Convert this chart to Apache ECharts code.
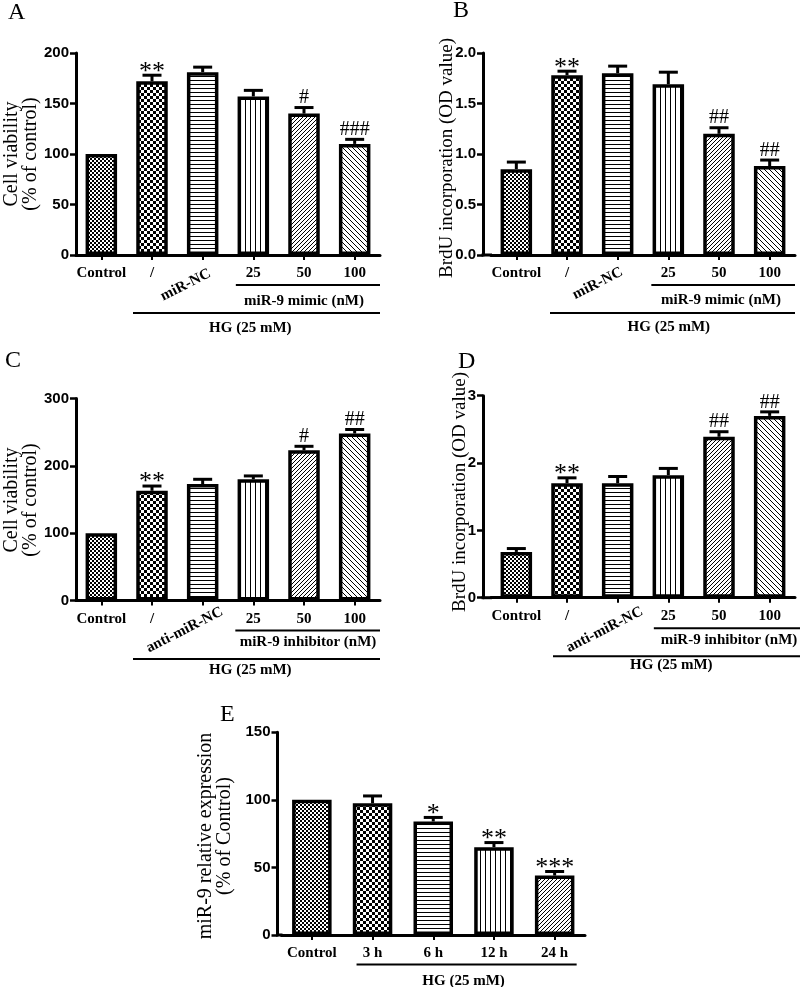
<!DOCTYPE html>
<html><head><meta charset="utf-8">
<script src="https://cdn.jsdelivr.net/npm/echarts@6/dist/echarts.min.js"></script>
<style>html,body{margin:0;padding:0;background:#fff}#c{width:800px;height:987px}</style>
</head><body><div id="c"></div>
<script>
// ---------------- DATA ----------------
const catsA = ['Control', '/', 'miR-NC', '25', '50', '100'];
const valsA = [100, 172, 181, 157, 140, 110];
const errA  = [0, 6, 5, 6, 6, 4.5];
const sigA  = ['', '**', '', '', '#', '###'];
const ticksA = [0, 50, 100, 150, 200];

const catsB = ['Control', '/', 'miR-NC', '25', '50', '100'];
const valsB = [0.85, 1.78, 1.80, 1.69, 1.20, 0.88];
const errB  = [0.07, 0.04, 0.07, 0.12, 0.06, 0.06];
const sigB  = ['', '**', '', '', '##', '##'];
const ticksB = [0.0, 0.5, 1.0, 1.5, 2.0];

const catsC = ['Control', '/', 'anti-miR-NC', '25', '50', '100'];
const valsC = [100, 163, 173, 180, 223, 248];
const errC  = [0, 7, 7, 5, 6, 6];
const sigC  = ['', '**', '', '', '#', '##'];
const ticksC = [0, 100, 200, 300];

const catsD = ['Control', '/', 'anti-miR-NC', '25', '50', '100'];
const valsD = [0.68, 1.70, 1.70, 1.82, 2.39, 2.70];
const errD  = [0.05, 0.08, 0.10, 0.10, 0.075, 0.06];
const sigD  = ['', '**', '', '', '##', '##'];
const ticksD = [0, 1, 2, 3];

const catsE = ['Control', '3 h', '6 h', '12 h', '24 h'];
const valsE = [100, 97.5, 84, 65, 44];
const errE  = [0, 5.4, 3, 3.4, 3];
const sigE  = ['', '', '*', '**', '***'];
const ticksE = [0, 50, 100, 150];

const panelLetters = ['A', 'B', 'C', 'D', 'E'];
const yTitles = ['Cell viability\n(% of control)', 'BrdU incorporation (OD value)',
                 'Cell viability\n(% of control)', 'BrdU incorporation (OD value)',
                 'miR-9 relative expression\n(% of Control)'];
const subLabels = ['miR-9 mimic (nM)', 'miR-9 mimic (nM)', 'miR-9 inhibitor (nM)', 'miR-9 inhibitor (nM)', null];
const hgLabel = 'HG (25 mM)';
const rotatedIdx = [2, 2, 2, 2, -1];

// ---------------- STYLE / LAYOUT ----------------
const SERIF = '"Liberation Serif", "DejaVu Serif", serif';
const SANS = '"Liberation Sans", Arial, sans-serif';

function pattern(type) {
  const c = document.createElement('canvas');
  const g = c.getContext('2d');
  let n = 4;
  if (type === 'checker') n = 6;
  if (type === 'vline') n = 5;
  if (type === 'anti') n = 5;
  c.width = c.height = n;
  g.fillStyle = '#fff'; g.fillRect(0, 0, n, n);
  g.fillStyle = '#000'; g.strokeStyle = '#000';
  if (type === 'fine') { g.fillRect(0, 0, 2, 2); g.fillRect(2, 2, 2, 2); }
  else if (type === 'checker') { g.fillRect(0, 0, 3, 3); g.fillRect(3, 3, 3, 3); }
  else if (type === 'hline') { g.fillRect(0, 0, n, 1); }
  else if (type === 'vline') { g.fillRect(0, 0, 1, n); }
  else if (type === 'diag') {
    g.lineWidth = 1;
    g.beginPath();
    g.moveTo(0, n); g.lineTo(n, 0);
    g.moveTo(-1, 1); g.lineTo(1, -1);
    g.moveTo(n - 1, n + 1); g.lineTo(n + 1, n - 1);
    g.stroke();
  } else if (type === 'anti') {
    g.lineWidth = 1;
    g.beginPath();
    g.moveTo(0, 0); g.lineTo(n, n);
    g.moveTo(-1, n - 1); g.lineTo(1, n + 1);
    g.moveTo(n - 1, -1); g.lineTo(n + 1, 1);
    g.stroke();
  }
  return { image: c, repeat: 'repeat' };
}
const patSix = ['fine', 'checker', 'hline', 'vline', 'diag', 'anti'].map(pattern);
const patFive = ['fine', 'checker', 'hline', 'vline', 'diag'].map(pattern);

const panels = [
  { cats: catsA, vals: valsA, err: errA, sig: sigA, ticks: ticksA, dec: 0 },
  { cats: catsB, vals: valsB, err: errB, sig: sigB, ticks: ticksB, dec: 1 },
  { cats: catsC, vals: valsC, err: errC, sig: sigC, ticks: ticksC, dec: 0 },
  { cats: catsD, vals: valsD, err: errD, sig: sigD, ticks: ticksD, dec: 0 },
  { cats: catsE, vals: valsE, err: errE, sig: sigE, ticks: ticksE, dec: 0 }
];

const layout = [
  { left: 76, top: 53, width: 304, height: 202, off: 0, bw: 31.5, letter: [8, 12.5], yt: [21.5, 154], ytf: 20,
    rot: [-17, 30], sub: { x0: [3, -17.5], x1: 0, y: 30, t: [4, 0, 46] }, hg: { x0: [1, -19], x1: 0, y: 58, t: [3, -3, 73] } },
  { left: 491, top: 53, width: 304, height: 202, off: 8, bw: 31.5, letter: [453, 11], yt: [447, 158], ytf: 19,
    rot: [-20, 28.5], sub: { x0: [3, -17], x1: 0, y: 30, t: [4, 2, 45] }, hg: { x0: [1, -17], x1: 0, y: 58, t: [3, 0.5, 72] } },
  { left: 76, top: 398.5, width: 304, height: 202, off: 0, bw: 31.5, letter: [5, 361], yt: [21.5, 500], ytf: 20,
    rot: [-18, 29.5], sub: { x0: [3, -18], x1: 0, y: 30, t: [4, 4, 42] }, hg: { x0: [1, -19], x1: 0, y: 58.5, t: [3, -3, 70] } },
  { left: 491, top: 395.7, width: 304, height: 202, off: 8, bw: 31.5, letter: [458, 362], yt: [460, 492], ytf: 19,
    rot: [-13, 32], sub: { x0: [3, -14.5], x1: 5, y: 30.5, t: [4, 10, 42.5] }, hg: { x0: [1, -14], x1: 5, y: 58.5, t: [3, 3, 67] } },
  { left: 281.5, top: 732.3, width: 303.5, height: 202.7, off: 4, bw: 39.5, letter: [220, 715], yt: [215, 836], ytf: 20,
    rot: null, sub: null, hg: { x0: [1, -16], x1e: [4, 22], y: 29.5, tmid: [2, 3], t: [0, 0, 46.5] } }
];

// ---------------- OPTION ----------------
const grids = [], xAxes = [], yAxes = [], series = [];
panels.forEach((p, i) => {
  const L = layout[i];
  grids.push({ left: L.left, top: L.top, width: L.width, height: L.height, containLabel: false });
  xAxes.push({
    gridIndex: i, type: 'category', data: p.cats,
    axisLine: { show: true, lineStyle: { color: '#000', width: 3 } },
    axisTick: { show: true, alignWithLabel: true, length: 5, lineStyle: { color: '#000', width: 2 } },
    axisLabel: { interval: 0, color: '#000', fontFamily: SERIF, fontWeight: 'bold', fontSize: 15, margin: 11,
      formatter: (v, idx) => idx === rotatedIdx[i] ? '' : v },
    splitLine: { show: false }
  });
  yAxes.push({
    gridIndex: i, type: 'value', min: p.ticks[0], max: p.ticks[p.ticks.length - 1],
    interval: p.ticks[1] - p.ticks[0], offset: L.off,
    axisLine: { show: true, lineStyle: { color: '#000', width: 3 } },
    axisTick: { show: true, length: 6, lineStyle: { color: '#000', width: 2.5 } },
    axisLabel: { color: '#000', fontFamily: SANS, fontWeight: 'bold', fontSize: 15, margin: 7,
      formatter: v => v.toFixed(p.dec) },
    splitLine: { show: false }
  });
  const pats = p.cats.length === 6 ? patSix : patFive;
  series.push({
    type: 'bar', xAxisIndex: i, yAxisIndex: i, barWidth: L.bw, z: 2,
    itemStyle: { borderColor: '#000', borderWidth: 3.5 },
    data: p.vals.map((v, j) => ({ value: v, itemStyle: { color: pats[j] } }))
  });
  series.push({
    type: 'custom', xAxisIndex: i, yAxisIndex: i, z: 4,
    data: p.vals.map((v, j) => [j, v, p.err[j]]),
    renderItem: (params, api) => {
      const j = api.value(0), v = api.value(1), e = api.value(2);
      const p0 = api.coord([j, v]), p1 = api.coord([j, v + e]);
      const ch = [];
      if (e > 0) {
        ch.push({ type: 'line', shape: { x1: p0[0], y1: p0[1], x2: p1[0], y2: p1[1] }, style: { stroke: '#000', lineWidth: 3 } });
        ch.push({ type: 'line', shape: { x1: p1[0] - 9.5, y1: p1[1], x2: p1[0] + 9.5, y2: p1[1] }, style: { stroke: '#000', lineWidth: 3 } });
      }
      const s = p.sig[params.dataIndex];
      if (s) {
        const star = s[0] === '*';
        ch.push({ type: 'text', x: p1[0], y: p1[1] - (star ? 3.5 : 9.5),
          style: { text: s, fill: '#000', font: (star ? '26px ' : '20px ') + SERIF, align: 'center', verticalAlign: 'middle' } });
      }
      return { type: 'group', children: ch };
    }
  });
});

const chart = echarts.init(document.getElementById('c'), null, { renderer: 'canvas' });
chart.setOption({ animation: false, backgroundColor: '#fff', grid: grids, xAxis: xAxes, yAxis: yAxes, series: series });

// ---------------- ANNOTATIONS (positions via the axes) ----------------
const gfx = [];
const txt = (x, y, text, font, align, rot, lh) => gfx.push({ type: 'text', x: x, y: y, rotation: rot || 0,
  style: { text: text, font: font, fill: '#000', align: align || 'center', verticalAlign: 'middle', lineHeight: lh || 19 } });
const line = (x1, y1, x2, y2, w) => gfx.push({ type: 'line', shape: { x1, y1, x2, y2 }, style: { stroke: '#000', lineWidth: w || 2 } });

panels.forEach((p, i) => {
  const L = layout[i];
  const cx = idx => chart.convertToPixel({ xAxisIndex: i }, idx);
  const ay = chart.convertToPixel({ yAxisIndex: i }, 0);
  const half = (cx(1) - cx(0)) / 2;
  const gl = cx(0) - half, gr = cx(p.cats.length - 1) + half;
  txt(L.letter[0], L.letter[1], panelLetters[i], '24px ' + SERIF, 'left');
  txt(L.yt[0], L.yt[1], yTitles[i], L.ytf + 'px ' + SERIF, 'center', Math.PI / 2, 19);
  if (L.off) line(gl - L.off - 1.5, ay, gl + 1, ay, 3);
  if (L.rot) txt(cx(rotatedIdx[i]) + L.rot[0], ay + L.rot[1], p.cats[rotatedIdx[i]], 'bold 15px ' + SERIF, 'center', 27 * Math.PI / 180);
  if (L.sub) {
    const s = L.sub;
    line(cx(s.x0[0]) + s.x0[1], ay + s.y, gr + s.x1, ay + s.y, 2);
    txt(cx(s.t[0]) + s.t[1], ay + s.t[2], subLabels[i], 'bold 15px ' + SERIF);
  }
  const h = L.hg;
  const xEnd = h.x1e ? cx(h.x1e[0]) + h.x1e[1] : gr + h.x1;
  line(cx(h.x0[0]) + h.x0[1], ay + h.y, xEnd, ay + h.y, 2);
  const tX = h.tmid ? (cx(h.tmid[0]) + cx(h.tmid[1])) / 2 : cx(h.t[0]) + h.t[1];
  txt(tX, ay + h.t[2], hgLabel, 'bold 15px ' + SERIF);
});
chart.setOption({ graphic: { elements: gfx } });
</script>
</body></html>
